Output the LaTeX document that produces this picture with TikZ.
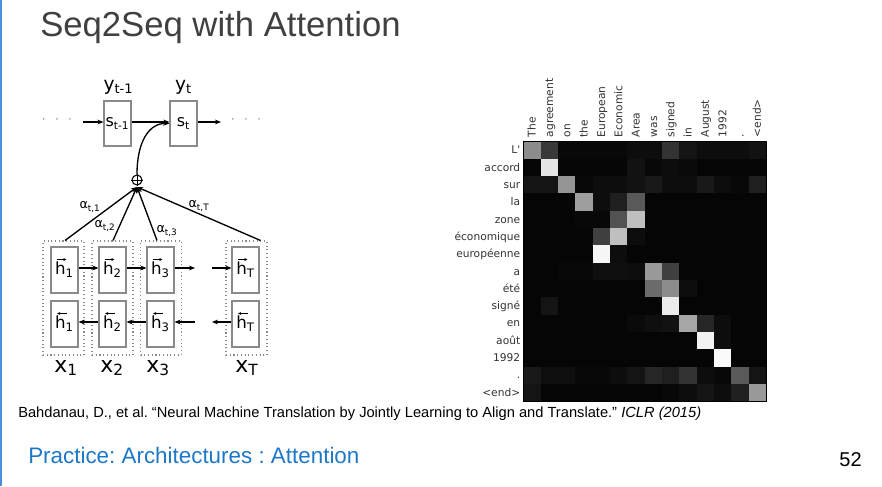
\documentclass[tikz,border=0pt]{standalone}
\usepackage{fontspec}
\setmainfont{Liberation Sans}
\newfontfamily\dejavu{DejaVu Sans}
\usetikzlibrary{arrows.meta,calc}
\definecolor{titlegray}{HTML}{404040}
\definecolor{footblue}{HTML}{1E78C8}
\definecolor{barblue}{HTML}{4A8FDD}
\definecolor{boxgray}{HTML}{8A8A8A}
\definecolor{labgray}{HTML}{333333}
\frenchspacing
\begin{document}
\begin{tikzpicture}[x=0.75pt,y=-0.75pt,
  sbox/.style={draw=boxgray, line width=0.9pt, minimum width=20.25pt, minimum height=33.75pt, inner sep=0pt, font=\dejavu\fontsize{12}{12}\selectfont},
  hbox/.style={draw=boxgray, line width=0.9pt, minimum width=20.25pt, minimum height=34.5pt, inner sep=0pt, font=\dejavu\fontsize{12.5}{12.5}\selectfont},
  obox/.style={draw=boxgray, dotted, line width=0.8pt, minimum width=30.75pt, minimum height=85.5pt, inner sep=0pt},
  conn/.style={line width=1pt, -{Stealth[length=4.5pt,width=3.6pt]}},
  vecar/.style={line width=0.5pt},
  ylab/.style={font=\dejavu\fontsize{14}{14}\selectfont, inner sep=0pt},
  xlab/.style={font=\dejavu\fontsize{16.5}{16.5}\selectfont, inner sep=0pt},
  alab/.style={font=\dejavu\fontsize{9.5}{9.5}\selectfont, inner sep=0pt},
  collab/.style={font=\dejavu\fontsize{8}{8}\selectfont, text=labgray, rotate=90, anchor=mid west, inner sep=0pt},
  rowlab/.style={font=\dejavu\fontsize{8}{8}\selectfont, text=labgray, anchor=mid east, inner sep=0pt}
]
\useasboundingbox (0,0) rectangle (882,486);
\fill[white] (0,0) rectangle (882,486);
\fill[barblue] (0,0) rectangle (2,486);

% title
\node[anchor=base west, inner sep=0pt, text=titlegray, font=\fontsize{26}{26}\selectfont] (title) at (40,36) {Seq2Seq with Attention};

% ---------- left diagram ----------
\node[sbox] (st1) at (117.5,123.5) {s\textsubscript{t-1}};
\node[sbox] (st) at (183.5,123.5) {s\textsubscript{t}};
\node[ylab] (yt1) at (118.5,87) {y\textsubscript{t-1}};
\node[ylab] (yt) at (183.5,87) {y\textsubscript{t}};
\node[font=\dejavu\fontsize{9}{9}\selectfont, text=boxgray, inner sep=0pt] (dl) at (57,121) {·\hspace{7pt}·\hspace{7pt}·};
\node[font=\dejavu\fontsize{9}{9}\selectfont, text=boxgray, inner sep=0pt] (dr) at (246,121) {·\hspace{7pt}·\hspace{7pt}·};
\coordinate (inl) at (83,122);
\coordinate (outr) at (221,122);
\draw[conn] (inl) -- (inl -| st1.west);
\draw[conn] (st1.east |- inl) -- (st.west |- inl);
\draw[conn] (st.east |- inl) -- (outr);

% outer dotted boxes
\node[obox] (o1) at (63.5,298) {};
\node[obox] (o2) at (112.5,298) {};
\node[obox] (o3) at (161,298) {};
\node[obox] (oT) at (246.5,298) {};

% inner h boxes
\foreach \n/\x/\s in {1/64.5/1, 2/112.5/2, 3/160.5/3, T/245.5/T}{
  \node[hbox] (hf\n) at (\x,270) {h\textsubscript{\s}};
  \node[hbox] (hb\n) at (\x,324) {h\textsubscript{\s}};
  \draw[vecar, -{Stealth[length=2.4pt,width=2.2pt]}] ($(hf\n.center)+(-7.5,-10.5)$) -- ++(9.5,0);
  \draw[vecar, {Stealth[length=2.4pt,width=2.2pt]}-] ($(hb\n.center)+(-7.5,-10.5)$) -- ++(9.5,0);
}

% recurrent arrows
\coordinate (f3e) at (195,268);
\coordinate (fTs) at (212,268);
\coordinate (b3s) at (195,322);
\coordinate (bTe) at (212,322);
\draw[conn] (hf1.east |- f3e) -- (hf2.west |- f3e);
\draw[conn] (hf2.east |- f3e) -- (hf3.west |- f3e);
\draw[conn] (hf3.east |- f3e) -- (f3e);
\draw[conn] (fTs) -- (hfT.west |- fTs);
\draw[conn] (hb2.west |- b3s) -- (hb1.east |- b3s);
\draw[conn] (hb3.west |- b3s) -- (hb2.east |- b3s);
\draw[conn] (b3s) -- (hb3.east |- b3s);
\draw[conn] (hbT.west |- bTe) -- (bTe);

% x labels
\node[xlab] (x1) at (66,368) {x\textsubscript{1}};
\node[xlab] (x2) at (112,368) {x\textsubscript{2}};
\node[xlab] (x3) at (158,368) {x\textsubscript{3}};
\node[xlab] (xT) at (247,368) {x\textsubscript{T}};

% attention
\node[draw=black, line width=0.8pt, circle, minimum size=7.5pt, inner sep=0pt] (plus) at (137,180) {};
\draw[line width=0.7pt] (plus.north) -- (plus.south) (plus.west) -- (plus.east);
\coordinate (J) at (137,187);
\draw[conn] ($(o1.north)+(1.5,0)$) -- (J);
\draw[conn] ($(o2.north)+(0.5,0)$) -- (J);
\draw[conn] ($(o3.north)+(-4,0)$) -- (J);
\draw[conn] ($(oT.north)+(14,0)$) -- (J);
\draw[conn] (plus.north) .. controls (137,140) and (150,123) .. (st.west);
\node[alab] (a1) at (90,207) {α\textsubscript{t,1}};
\node[alab] (a2) at (105,226) {α\textsubscript{t,2}};
\node[alab] (a3) at (167,231) {α\textsubscript{t,3}};
\node[alab] (aT) at (199,206) {α\textsubscript{t,T}};

% ---------- heatmap ----------
\def\cs{17.33}
\foreach \rowvals [count=\r from 0] in {
 {55,22,3,3,3,3,5,5,20,8,5,5,5,7},
 {2,90,2,2,2,2,7,3,5,4,2,2,2,2},
 {8,8,58,3,5,5,7,10,5,5,10,5,3,12},
 {2,2,2,62,5,12,35,2,2,2,2,2,2,2},
 {2,2,2,3,3,32,75,2,2,2,2,2,2,2},
 {2,2,2,2,25,75,5,2,2,2,2,2,2,2},
 {2,2,2,2,97,5,2,2,2,2,2,2,2,2},
 {2,2,3,3,6,6,5,60,25,2,2,2,2,2},
 {2,2,2,2,2,2,2,42,55,5,2,2,2,2},
 {2,8,2,2,2,2,2,2,92,2,2,2,2,2},
 {2,2,2,2,2,2,4,6,7,65,15,5,2,2},
 {2,2,2,2,2,2,2,2,2,2,95,5,2,2},
 {2,2,2,2,2,2,2,2,2,2,2,98,2,2},
 {10,6,6,3,3,5,8,15,12,20,5,3,35,8},
 {8,2,2,2,2,2,2,2,3,5,8,5,12,60}}{
  \foreach \v [count=\c from 0] in \rowvals {
    \fill[white!\v!black] (523.5+\cs*\c,141.5+\cs*\r) rectangle ++(\cs+0.3,\cs+0.3);
  }
}
\draw[black, line width=0.6pt] (523.5,141.5) rectangle (766,401.5);

\foreach \w [count=\c from 0] in {The,agreement,on,the,European,Economic,Area,was,signed,in,August,1992,.,<end>}{
  \node[collab] (col\c) at (523.5+\cs*\c+\cs/2,137.5) {\w};
}
\foreach \w [count=\r from 0] in {L',accord,sur,la,zone,économique,européenne,a,été,signé,en,août,1992,.,<end>}{
  \node[rowlab] (row\r) at (520.5,141.5+\cs*\r+\cs/2) {\w};
}

% citation and footer
\node[anchor=base west, inner sep=0pt, font=\fontsize{11}{11}\selectfont] (cite) at (18,417) {Bahdanau, D., et al. “Neural Machine Translation by Jointly Learning to Align and Translate.” \textit{ICLR (2015)}};
\node[anchor=base west, inner sep=0pt, text=footblue, font=\fontsize{16.8}{16.8}\selectfont] (foot) at (28,463) {Practice: Architectures : Attention};
\node[anchor=base east, inner sep=0pt, font=\fontsize{15}{15}\selectfont] (pg) at (862,466) {52};
\end{tikzpicture}
\end{document}
